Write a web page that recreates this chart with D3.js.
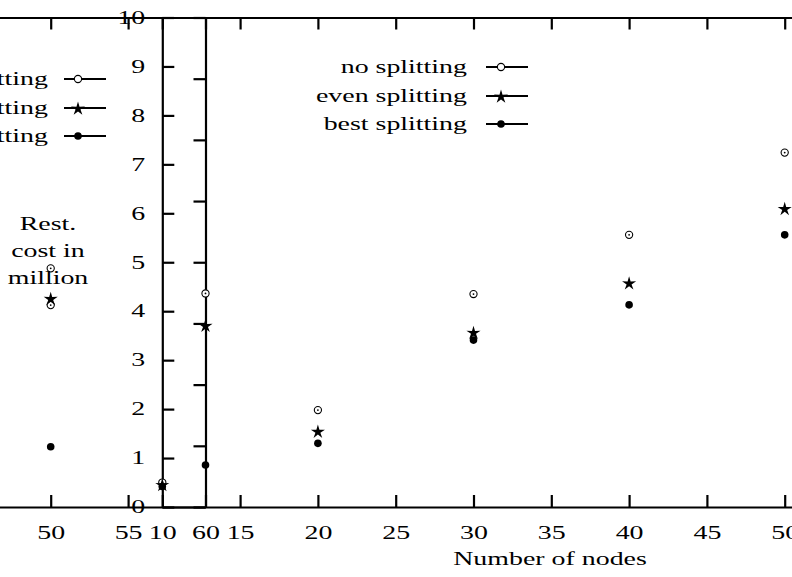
<!DOCTYPE html>
<html>
<head>
<meta charset="utf-8">
<script src="https://cdn.jsdelivr.net/npm/d3@7"></script>
<style>
  body { margin: 0; background: #fff; }
  svg { display: block; }
</style>
</head>
<body>
<div id="chart"></div>
<script>
// series names
const seriesNames = ["no splitting", "even splitting", "best splitting"];

// front plot (number of nodes 10..50)
const nodes = [10, 20, 30, 40, 50];
const noSplit = [0.50, 1.98, 4.35, 5.56, 7.24];
const evenSplit = [0.46, 1.55, 3.57, 4.58, 6.10];
const bestSplit = [0.42, 1.30, 3.41, 4.13, 5.56];

// back plot, only its right end is visible
const backNoSplitX = [50, 50, 60];
const backNoSplit = [3.90, 3.30, 3.49];
const backEvenX = [50, 60];
const backEven = [3.41, 2.97];
const backBestX = [50, 60];
const backBest = [0.985, 0.686];

// ticks (only the ones inside the picture carry labels)
const frontXTicks = [10, 15, 20, 25, 30, 35, 40, 45, 50];
const frontYTicks = [0, 1, 2, 3, 4, 5, 6, 7, 8, 9, 10];
const backXTicks = [50, 55, 60];
const backYTicks = [0, 1, 2, 3, 4, 5, 6, 7, 8];

const yLabelLines = ["Rest.", "cost in", "million"];
const xLabel = "Number of nodes";

let width = 792,
    height = 577;

let font = "'Liberation Serif', 'DejaVu Serif', serif";
let stretch = 1.55;   // the original text is drawn wide
let lw = 2.2;

let svg = d3.select("#chart")
    .append("svg")
    .attr("width", width)
    .attr("height", height)
    .attr("viewBox", [0, 0, width, height]);

svg.append("rect").attr("width", width).attr("height", height).attr("fill", "#fff");

let xBack = d3.scaleLinear().domain([40, 60]).range([-104.1, 205.5]);
let yBack = d3.scaleLinear().domain([0, 8]).range([507, 17.5]);
let xFront = d3.scaleLinear().domain([10, 60]).range([162.3, 940.3]);
let yFront = d3.scaleLinear().domain([0, 10]).range([507, 17.5]);

function styleAxis(g) {
    g.attr("font-family", font).attr("font-size", 18);
    g.selectAll("path").attr("stroke", "#000").attr("stroke-width", lw);
    g.selectAll("line").attr("stroke", "#000").attr("stroke-width", lw);
    g.selectAll("text").attr("fill", "#000");
}

function bottomLabels(g) {
    g.selectAll("text")
        .attr("y", 32)
        .attr("dy", null)
        .attr("transform", `scale(${stretch},1)`);
}

function noLabels(g) {
    g.selectAll("text").remove();
}

// ---- back plot frame
svg.append("g")
    .attr("transform", `translate(0,${yBack(0)})`)
    .call(d3.axisBottom(xBack).tickValues(backXTicks).tickSizeInner(-12).tickSizeOuter(0))
    .call(styleAxis)
    .call(bottomLabels);

svg.append("g")
    .attr("transform", `translate(0,${yBack(8)})`)
    .call(d3.axisTop(xBack).tickValues(backXTicks).tickSizeInner(-12).tickSizeOuter(0))
    .call(styleAxis)
    .call(noLabels);

svg.append("g")
    .attr("transform", `translate(${xBack(60)},0)`)
    .call(d3.axisRight(yBack).tickValues(backYTicks).tickSizeInner(-12).tickSizeOuter(0))
    .call(styleAxis)
    .call(noLabels);

// ---- front plot frame
svg.append("g")
    .attr("transform", `translate(0,${yFront(0)})`)
    .call(d3.axisBottom(xFront).tickValues(frontXTicks).tickSizeInner(-12).tickSizeOuter(0))
    .call(styleAxis)
    .call(bottomLabels);

svg.append("g")
    .attr("transform", `translate(0,${yFront(10)})`)
    .call(d3.axisTop(xFront).tickValues(frontXTicks).tickSizeInner(-12).tickSizeOuter(0))
    .call(styleAxis)
    .call(noLabels);

svg.append("g")
    .attr("transform", `translate(${xFront(10)},0)`)
    .call(d3.axisLeft(yFront).tickValues(frontYTicks).tickSizeInner(-12).tickSizeOuter(0))
    .call(styleAxis)
    .call(g => g.selectAll("text")
        .attr("x", -17 / stretch)
        .attr("transform", `scale(${stretch},1)`));

// ---- markers
// thin five-point star like the TeX \star
let starPath = d3.lineRadial().curve(d3.curveLinearClosed)(
    d3.range(10).map(i => [i * Math.PI / 5, i % 2 ? 2.6 : 7.4]));

function mark(g, type, cx, cy, dot = true) {
    if (type === "circle") {
        g.append("circle").attr("cx", cx).attr("cy", cy).attr("r", 3.6)
            .attr("fill", "#fff").attr("stroke", "#000").attr("stroke-width", 1.1);
        if (dot) g.append("circle").attr("cx", cx).attr("cy", cy).attr("r", 0.9).attr("fill", "#000");
    } else if (type === "star") {
        g.append("path").attr("d", starPath)
            .attr("transform", `translate(${cx},${cy + 0.8})`)
            .attr("fill", "#000");
    } else {
        g.append("circle").attr("cx", cx).attr("cy", cy).attr("r", 3.8).attr("fill", "#000");
    }
}

function plotSeries(xs, ys, x, y, type) {
    let g = svg.append("g");
    xs.forEach((d, i) => mark(g, type, x(d), y(ys[i])));
}

plotSeries(backNoSplitX, backNoSplit, xBack, yBack, "circle");
plotSeries(backEvenX, backEven, xBack, yBack, "star");
plotSeries(backBestX, backBest, xBack, yBack, "bullet");

plotSeries(nodes, noSplit, xFront, yFront, "circle");
plotSeries(nodes, evenSplit, xFront, yFront, "star");
plotSeries(nodes, bestSplit, xFront, yFront, "bullet");

// ---- legends
let types = ["circle", "star", "bullet"];

function legend(textX, lineX0, lineX1, symX, rows) {
    let g = svg.append("g");
    seriesNames.forEach((name, i) => {
        let ry = rows[i];
        g.append("text")
            .attr("transform", `translate(${textX},${ry + 6}) scale(${stretch},1)`)
            .attr("text-anchor", "end")
            .attr("font-family", font)
            .attr("font-size", 18)
            .attr("fill", "#000")
            .text(name);
        g.append("line")
            .attr("x1", lineX0).attr("x2", lineX1)
            .attr("y1", ry).attr("y2", ry)
            .attr("stroke", "#000").attr("stroke-width", lw);
        mark(g, types[i], symX, ry, false);
    });
}

legend(48, 64, 106, 78, [79, 108, 136]);
legend(467, 486, 528, 501, [67, 96, 124]);

// ---- axis titles
yLabelLines.forEach((t, i) => {
    svg.append("text")
        .attr("transform", `translate(48,${230 + i * 27}) scale(${stretch},1)`)
        .attr("text-anchor", "middle")
        .attr("font-family", font)
        .attr("font-size", 18)
        .attr("fill", "#000")
        .text(t);
});

svg.append("text")
    .attr("transform", `translate(550,565) scale(${stretch},1)`)
    .attr("text-anchor", "middle")
    .attr("font-family", font)
    .attr("font-size", 18)
    .attr("fill", "#000")
    .text(xLabel);
</script>
</body>
</html>
